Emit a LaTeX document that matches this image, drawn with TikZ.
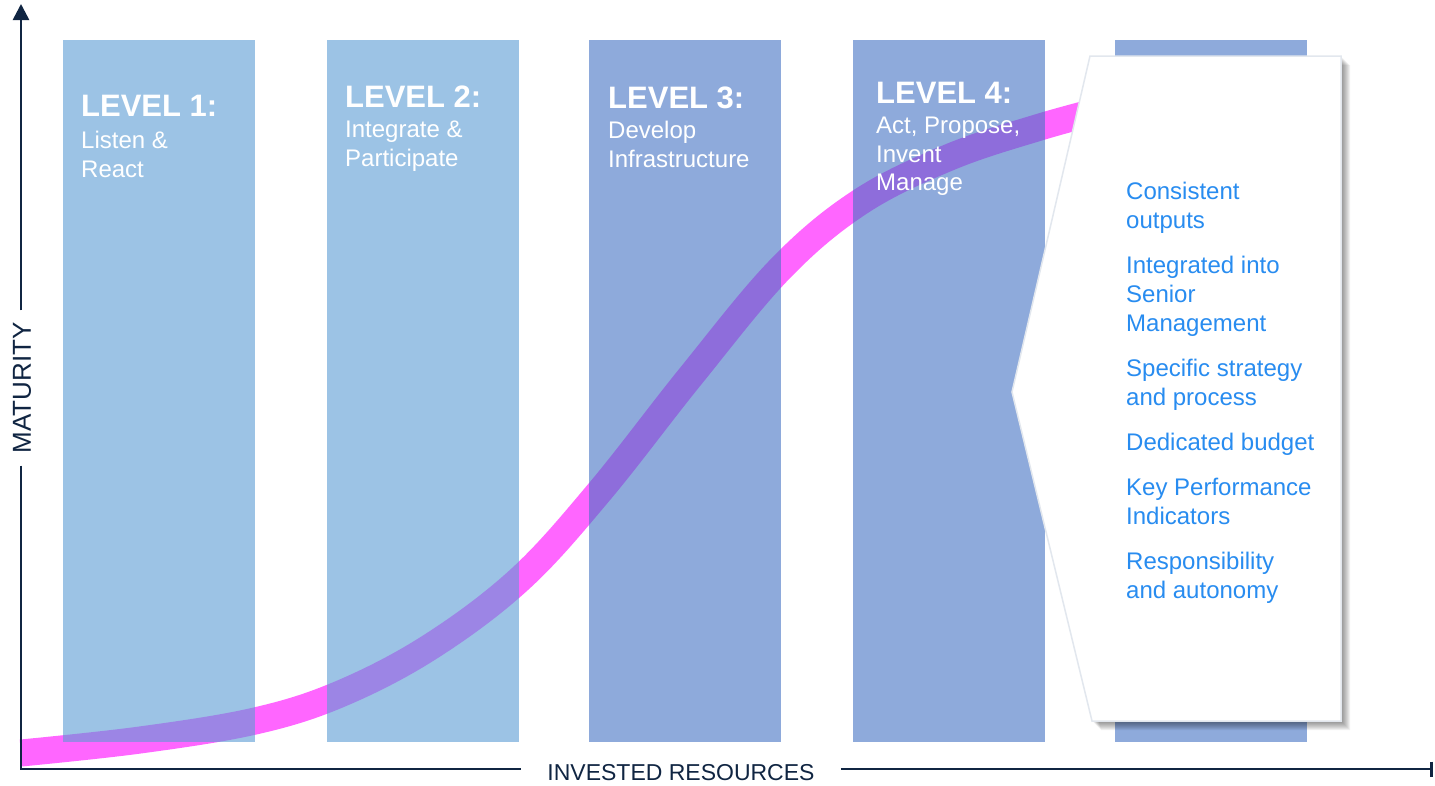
\documentclass[tikz,border=0pt]{standalone}
\usepackage{fontspec}
\setmainfont{Liberation Sans}
\usetikzlibrary{arrows.meta}
\definecolor{navy}{RGB}{16,37,66}
\definecolor{lightcolc}{RGB}{91,155,213}
\definecolor{darkcolc}{RGB}{68,114,196}
\definecolor{pinkband}{RGB}{255,102,255}
\definecolor{itemblue}{RGB}{40,140,240}
\definecolor{calloutedge}{RGB}{226,231,238}
\begin{document}
\begin{tikzpicture}[x=1pt,y=-1pt,
  column/.style={draw=none, fill opacity=0.6, inner sep=0pt, minimum width=192pt, minimum height=702pt},
  lightcol/.style={column, fill=lightcolc},
  darkcol/.style={column, fill=darkcolc},
  heading/.style={text=white, font=\fontsize{31}{31}\selectfont\bfseries, anchor=base west, inner sep=0pt},
  body/.style={text=white, font=\fontsize{24}{28.5}\selectfont, anchor=base west, inner sep=0pt},
  itemtext/.style={text=itemblue, font=\fontsize{24}{29}\selectfont, anchor=base west, inner sep=0pt},
  axis/.style={draw=navy, line width=2.6pt, line join=miter},
  axislabel/.style={text=navy, font=\fontsize{23}{23}\selectfont, inner ysep=0pt}
]
\useasboundingbox (0,0) rectangle (1435,785);
\fill[white] (0,0) rectangle (1435,785);

% S-curve band
\draw[pinkband, line width=27pt, line cap=butt]
  plot[smooth, tension=0.6] coordinates {(21,753) (140,740) (255,721) (340,694) (430,647) (520,579) (600,491) (690,377) (780,269) (860,202) (950,157) (1040,127) (1110,108)};

% columns
\node[lightcol] (c1) at (159,391) {};
\node[lightcol] (c2) at (422.5,391) {};
\node[darkcol] (c3) at (685,391) {};
\node[darkcol] (c4) at (949,391) {};
\node[darkcol] (c5) at (1211,391) {};

% callout shadow and shape
\coordinate (p1) at (1090,56);
\coordinate (p2) at (1341,56);
\coordinate (p3) at (1341,721);
\coordinate (p4) at (1092,721);
\coordinate (p5) at (1012,392);
\foreach \k in {2,3,4,5,6,7,8,9} {
  \fill[black, opacity=0.055]
    ([xshift=\k pt, yshift=-\k pt]p1) -- ([xshift=\k pt, yshift=-\k pt]p2) --
    ([xshift=\k pt, yshift=-\k pt]p3) -- ([xshift=\k pt, yshift=-\k pt]p4) --
    ([xshift=\k pt, yshift=-\k pt]p5) -- cycle;
}
\filldraw[fill=white, draw=calloutedge, line width=1.5pt] (p1) -- (p2) -- (p3) -- (p4) -- (p5) -- cycle;

% column texts
\node[heading] (h1) at (81,116) {LEVEL 1:};
\node[body] (b1) at (81,148.5) {\parbox[t]{180pt}{\raggedright Listen \&\\React}};
\node[heading] (h2) at (345,107) {LEVEL 2:};
\node[body] (b2) at (345,137.5) {\parbox[t]{180pt}{\raggedright Integrate \&\\Participate}};
\node[heading] (h3) at (608,108) {LEVEL 3:};
\node[body] (b3) at (608,138.5) {\parbox[t]{180pt}{\raggedright Develop\\Infrastructure}};
\node[heading] (h4) at (876,103) {LEVEL 4:};
\node[body] (b4) at (876,133.5) {\parbox[t]{180pt}{\raggedright Act, Propose,\\Invent\\Manage}};

% callout items
\node[itemtext] (items) at (1126,199.3) {\parbox[t]{210pt}{\raggedright
Consistent\\outputs\par\vspace{16pt}
Integrated into\\Senior\\Management\par\vspace{16pt}
Specific strategy\\and process\par\vspace{16pt}
Dedicated budget\par\vspace{16pt}
Key Performance\\Indicators\par\vspace{16pt}
Responsibility\\and autonomy}};

% axes
\coordinate (O) at (21,769);
\coordinate (ytop) at (21,4);
\coordinate (xend) at (1433,769);
\node[axislabel, font=\fontsize{26}{26}\selectfont, rotate=90, inner xsep=12pt] (ylab) at (22,388) {MATURITY};
\node[axislabel, inner xsep=26pt] (xlab) at (681,773) {INVESTED RESOURCES};
\draw[axis] (O |- ylab.west) -- (O) -- (O -| xlab.west);
\draw[axis, -{Triangle[length=16pt, width=16pt]}] (O |- ylab.east) -- (ytop);
\draw[axis, -{Bar[width=15pt, line width=3pt]}] (O -| xlab.east) -- (xend);
\end{tikzpicture}
\end{document}
